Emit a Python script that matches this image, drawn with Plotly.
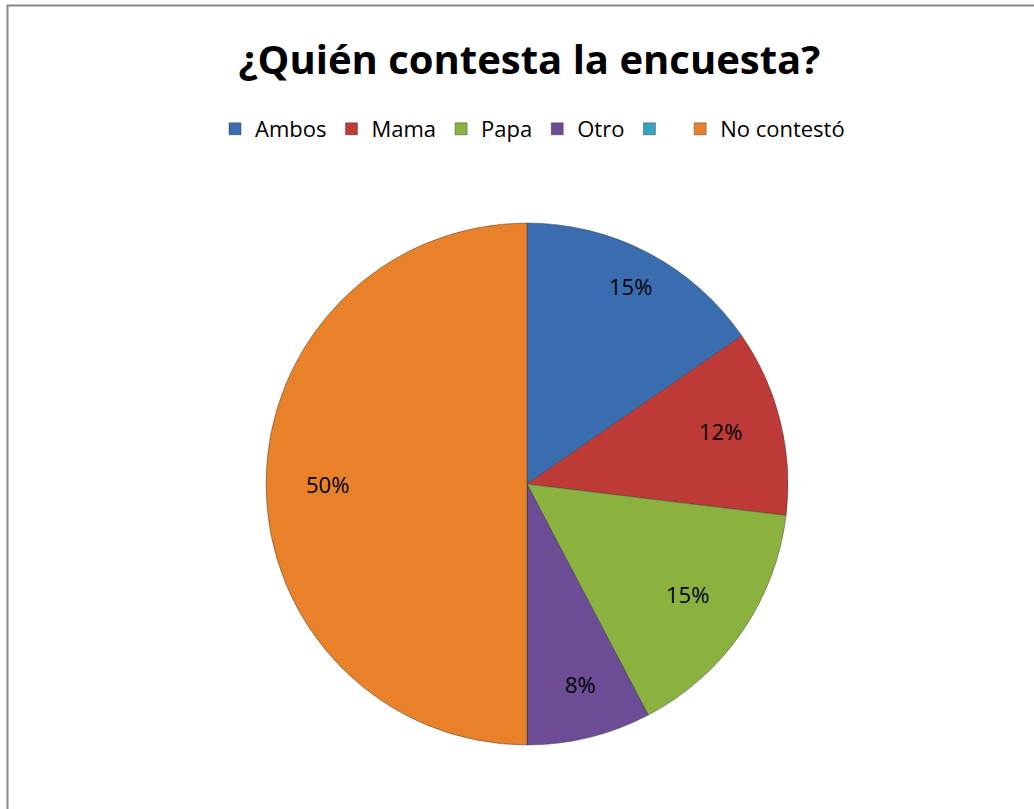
import math
import plotly.graph_objects as go

# Data
labels = ["Ambos", "Mama", "Papa", "Otro", " ", "No contestó"]
counts = [4, 3, 4, 2, 0, 13]
colors = ["#3A6CB0", "#BD3A37", "#8BB13F", "#6C4C95", "#36A3C0", "#E9812A"]
title_text = "¿Quién contesta la encuesta?"

W, H = 1034, 809
# pie geometry (pixels)
cx, cy, R = 527, 484, 261

fig = go.Figure()
fig.add_trace(go.Pie(
    labels=labels,
    values=counts,
    marker=dict(colors=colors, line=dict(color="rgba(60,60,60,0.45)", width=1)),
    sort=False,
    direction="clockwise",
    rotation=0,
    textinfo="none",
    hoverinfo="label+percent",
    domain=dict(x=[(cx - R) / W, (cx + R) / W], y=[1 - (cy + R) / H, 1 - (cy - R) / H]),
    showlegend=True,
))

# Data labels, placed along each slice's bisector from the values
total = sum(counts)
cum = 0
annotations = []
for lab, v in zip(labels, counts):
    if v > 0:
        mid = (cum + v / 2) / total * 2 * math.pi
        r = 0.855 * R
        px = cx + r * math.sin(mid)
        py = cy - r * math.cos(mid)
        annotations.append(dict(
            x=px / W, y=1 - py / H, xref="paper", yref="paper",
            text=f"{round(100 * v / total)}%", showarrow=False,
            font=dict(family="Open Sans, sans-serif", size=22, color="#000000"),
        ))
    cum += v

fig.update_layout(
    width=W, height=H,
    margin=dict(l=0, r=0, t=0, b=0),
    paper_bgcolor="white",
    plot_bgcolor="white",
    title=dict(text=f"<b>{title_text}</b>", x=0.512, xanchor="center", y=1 - 60 / H, yanchor="middle",
               font=dict(family="Open Sans, sans-serif", size=40, color="#000000")),
    legend=dict(orientation="h", x=0.515, xanchor="center", y=1 - 129 / H, yanchor="middle",
                font=dict(family="Open Sans, sans-serif", size=22, color="#000000"),
                itemwidth=30, tracegroupgap=0),
    annotations=annotations,
    shapes=[dict(type="rect", xref="paper", yref="paper", x0=7.5 / W, y0=-0.05, x1=1.05, y1=1 - 5.5 / H,
                 line=dict(color="#868686", width=2), fillcolor="rgba(0,0,0,0)", layer="below")],
)

fig.write_html("out.html", config={"displayModeBar": False},
               post_script="document.body.style.margin='0';document.body.style.overflow='hidden';")
